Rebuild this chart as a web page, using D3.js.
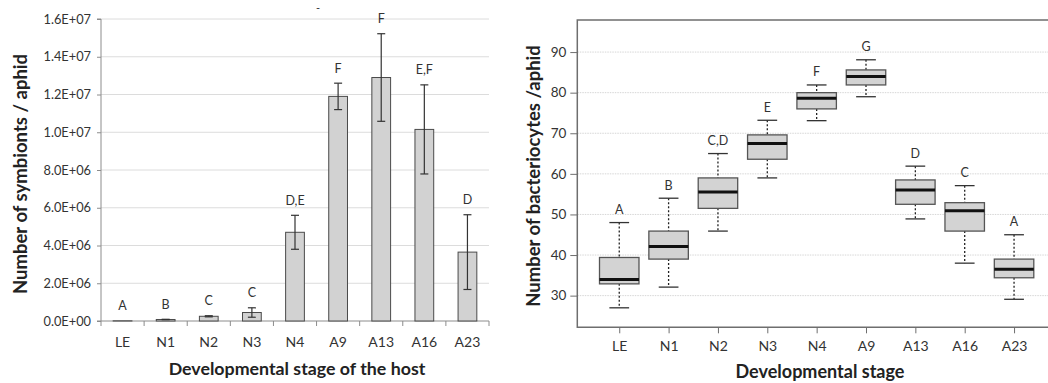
<!DOCTYPE html>
<html><head><meta charset="utf-8">
<script src="https://cdn.jsdelivr.net/npm/d3@7/dist/d3.min.js"></script>
<style>body{margin:0;background:#fff}svg{display:block;font-family:Lato,"Open Sans",sans-serif}</style>
</head><body><svg id="c" width="1048" height="383"></svg>
<script>
// ---------- data: left chart (bar chart) ----------
const stages = ["LE","N1","N2","N3","N4","A9","A13","A16","A23"];
const symbiontMeans = [0.01e6, 0.08e6, 0.25e6, 0.45e6, 4.70e6, 11.90e6, 12.90e6, 10.15e6, 3.65e6];
const symbiontErrors = [0, 0.01e6, 0.03e6, 0.25e6, 0.90e6, 0.70e6, 2.32e6, 2.36e6, 1.98e6];
const symbiontLetters = ["A","B","C","C","D,E","F","F","E,F","D"];
const leftTicks = [0, 2e6, 4e6, 6e6, 8e6, 10e6, 12e6, 14e6, 16e6];
const leftTickLabels = ["0.0E+00","2.0E+06","4.0E+06","6.0E+06","8.0E+06","1.0E+07","1.2E+07","1.4E+07","1.6E+07"];

// ---------- data: right chart (box plots) ----------
const whiskerLow  = [27.0, 32.1, 45.9, 59.0, 73.1, 79.0, 48.9, 38.0, 29.1];
const q1          = [32.9, 39.0, 51.5, 63.6, 76.0, 81.9, 52.5, 45.9, 34.4];
const medians     = [34.0, 42.1, 55.5, 67.5, 78.6, 84.0, 56.0, 50.9, 36.5];
const q3          = [39.4, 45.9, 59.0, 69.6, 80.0, 85.6, 58.5, 52.9, 39.0];
const whiskerHigh = [48.0, 54.0, 65.0, 73.2, 81.9, 88.1, 61.9, 57.1, 45.0];
const bacteriocyteLetters = ["A","B","C,D","E","F","G","D","C","A"];
const rightTicks = [30, 40, 50, 60, 70, 80, 90];

const svg = d3.select("#c");

// ================= LEFT CHART =================
const L = {x0:101, x1:489, y0:321, y1:19};
const xL = d3.scaleBand().domain(stages).range([L.x0, L.x1]).paddingInner(0.565).paddingOuter(0.2825);
const yL = d3.scaleLinear().domain([0, 16e6]).range([L.y0, L.y1]);
const gL = svg.append("g");

// gridlines
gL.selectAll("line.grid").data(leftTicks.slice(1)).join("line")
  .attr("x1", L.x0).attr("x2", L.x1).attr("y1", d=>yL(d)).attr("y2", d=>yL(d))
  .attr("stroke", "#dcdcdc").attr("stroke-width", 1);

// y axis
const yAxisL = d3.axisLeft(yL).tickValues(leftTicks).tickFormat((d,i)=>leftTickLabels[i]).tickSize(4).tickPadding(6);
const ya = gL.append("g").attr("transform", `translate(${L.x0},0)`).call(yAxisL);
ya.select(".domain").attr("stroke", "#8c8c8c").attr("d", `M-4,${L.y1}H0V${L.y0}H-4`);
ya.selectAll(".tick line").attr("stroke", "#8c8c8c");
ya.selectAll("text").attr("font-size", 12.8).attr("fill", "#333").attr("font-family", "Lato");

// x axis baseline with category boundary ticks
const step = xL.step();
const bounds = stages.map(s => xL(s) - xL.paddingOuter()*step).concat([L.x1]);
gL.append("line").attr("x1", L.x0).attr("x2", L.x1).attr("y1", L.y0).attr("y2", L.y0).attr("stroke", "#8c8c8c");
gL.selectAll("line.xt").data(bounds).join("line")
  .attr("x1", d=>d).attr("x2", d=>d).attr("y1", L.y0).attr("y2", L.y0+5).attr("stroke", "#8c8c8c");
gL.selectAll("text.xl").data(stages).join("text")
  .attr("x", d=>xL(d)+xL.bandwidth()/2).attr("y", 346.5).attr("text-anchor", "middle")
  .attr("font-size", 14).attr("fill", "#333").text(d=>d);

// bars
gL.selectAll("rect.bar").data(stages).join("rect")
  .attr("x", d=>xL(d)).attr("width", xL.bandwidth())
  .attr("y", (d,i)=>yL(symbiontMeans[i])).attr("height", (d,i)=>L.y0 - yL(symbiontMeans[i]))
  .attr("fill", "#d2d2d2").attr("stroke", "#4a4a4a").attr("stroke-width", 1);

// error bars
stages.forEach((s,i)=>{
  if (symbiontErrors[i] <= 0) return;
  const cx = xL(s)+xL.bandwidth()/2;
  const top = yL(symbiontMeans[i]+symbiontErrors[i]);
  const bot = yL(Math.max(0, symbiontMeans[i]-symbiontErrors[i]));
  gL.append("line").attr("x1",cx).attr("x2",cx).attr("y1",top).attr("y2",bot).attr("stroke","#333").attr("stroke-width",1.2);
  [top,bot].forEach(y=>gL.append("line").attr("x1",cx-4).attr("x2",cx+4).attr("y1",y).attr("y2",y).attr("stroke","#333").attr("stroke-width",1.2));
});

// letters
gL.selectAll("text.let").data(stages).join("text")
  .attr("x", d=>xL(d)+xL.bandwidth()/2)
  .attr("y", (d,i)=>yL(symbiontMeans[i]+symbiontErrors[i]) - 10.5)
  .attr("text-anchor","middle").attr("font-size",12.5).attr("fill","#333")
  .text((d,i)=>symbiontLetters[i]);

// stray mark near top
gL.append("text").attr("x",318).attr("y",12).attr("text-anchor","middle").attr("font-size",11).attr("fill","#333").text("-");

// titles
gL.append("text").attr("x", 297).attr("y", 375).attr("text-anchor","middle")
  .attr("font-size",17.8).attr("font-weight","bold").attr("fill","#222").text("Developmental stage of the host");
gL.append("text").attr("transform","translate(27,174) rotate(-90)").attr("text-anchor","middle")
  .attr("font-size",18.5).attr("font-weight","bold").attr("fill","#222").text("Number of symbionts / aphid");

// ================= RIGHT CHART =================
const R = {x0:577.3, x1:1056, y0:327.3, y1:20};
const xR = d3.scalePoint().domain(stages).range([R.x0, R.x1]).padding(0.85);
const yR = d3.scaleLinear().domain([22.2, 97.9]).range([R.y0, R.y1]);
const sR = xR.step();
const boxW = 0.8*sR, capW = 0.4*sR;
const gR = svg.append("g");

// dotted gridlines
gR.selectAll("line.grid").data(rightTicks).join("line")
  .attr("x1", R.x0).attr("x2", R.x1).attr("y1", d=>yR(d)).attr("y2", d=>yR(d))
  .attr("stroke", "#d6d6d6").attr("stroke-width", 1).attr("stroke-dasharray","1.5,1");

// frame
gR.append("path").attr("d", `M${R.x1},${R.y1}H${R.x0}V${R.y0}H${R.x1}`)
  .attr("fill","none").attr("stroke","#6e6e6e").attr("stroke-width",1.5);

// y axis
const ra = gR.append("g").attr("transform",`translate(${R.x0},0)`)
  .call(d3.axisLeft(yR).tickValues(rightTicks).tickSize(7).tickPadding(4));
ra.select(".domain").remove();
ra.selectAll(".tick line").attr("stroke","#6e6e6e");
ra.selectAll("text").attr("font-size",13.5).attr("fill","#333").attr("font-family","Lato");

// x axis
const rx = gR.append("g").attr("transform",`translate(0,${R.y0})`)
  .call(d3.axisBottom(xR).tickSize(6).tickPadding(8));
rx.select(".domain").remove();
rx.selectAll(".tick line").attr("stroke","#6e6e6e");
rx.selectAll("text").attr("font-size",14).attr("fill","#333").attr("font-family","Lato");

// boxes
stages.forEach((s,i)=>{
  const cx = xR(s);
  const dashed = {stroke:"#222", "stroke-width":1.3, "stroke-dasharray":"2,2"};
  const wl = gR.append("line").attr("x1",cx).attr("x2",cx).attr("y1",yR(whiskerHigh[i])).attr("y2",yR(q3[i]));
  const wl2 = gR.append("line").attr("x1",cx).attr("x2",cx).attr("y1",yR(q1[i])).attr("y2",yR(whiskerLow[i]));
  [wl,wl2].forEach(l=>Object.entries(dashed).forEach(([k,v])=>l.attr(k,v)));
  [whiskerHigh[i], whiskerLow[i]].forEach(v=>gR.append("line")
    .attr("x1",cx-capW/2).attr("x2",cx+capW/2).attr("y1",yR(v)).attr("y2",yR(v))
    .attr("stroke","#333").attr("stroke-width",1.3));
  gR.append("rect").attr("x",cx-boxW/2).attr("width",boxW)
    .attr("y",yR(q3[i])).attr("height",yR(q1[i])-yR(q3[i]))
    .attr("fill","#d3d3d3").attr("stroke","#555").attr("stroke-width",1.3);
  gR.append("line").attr("x1",cx-boxW/2).attr("x2",cx+boxW/2).attr("y1",yR(medians[i])).attr("y2",yR(medians[i]))
    .attr("stroke","#111").attr("stroke-width",3);
  gR.append("text").attr("x",cx).attr("y",yR(whiskerHigh[i])-8.5).attr("text-anchor","middle")
    .attr("font-size",12.5).attr("fill","#333").text(bacteriocyteLetters[i]);
});

// titles
gR.append("text").attr("x",820).attr("y",378).attr("text-anchor","middle")
  .attr("font-size",18).attr("font-weight","bold").attr("fill","#222").text("Developmental stage");
gR.append("text").attr("transform","translate(540,176) rotate(-90)").attr("text-anchor","middle")
  .attr("font-size",18.5).attr("font-weight","bold").attr("fill","#222").text("Number of bacteriocytes /aphid");
</script></body></html>
